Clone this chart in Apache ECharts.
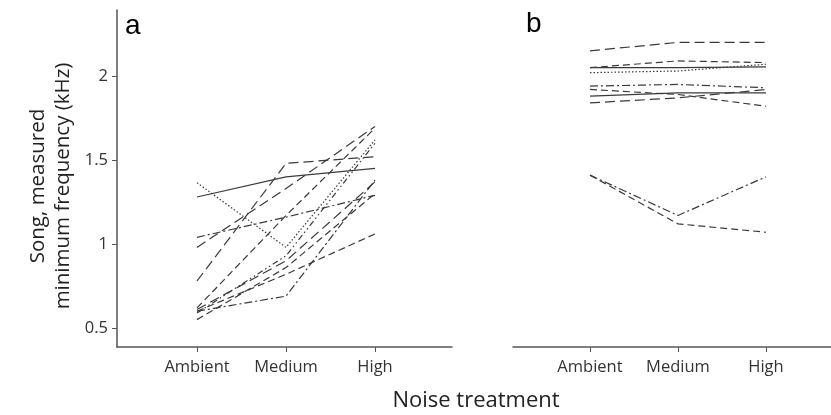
<!DOCTYPE html>
<html>
<head>
<meta charset="utf-8">
<script src="https://cdn.jsdelivr.net/npm/echarts@6/dist/echarts.min.js"></script>
<style>html,body{margin:0;padding:0;background:#fff}#c{width:831px;height:415px}</style>
</head>
<body>
<div id="c"></div>
<script>
// ---- data ----
const categories = ['Ambient', 'Medium', 'High'];
const yTicks = [0.5, 1, 1.5, 2];

// Panel a: one array per individual (Ambient, Medium, High)
const a1 = [1.28, 1.40, 1.45];
const a2 = [1.365, 0.98, 1.62];
const a3 = [0.98, 1.33, 1.70];
const a4 = [0.78, 1.48, 1.52];
const a5 = [1.04, 1.16, 1.29];
const a6 = [0.60, 0.69, 1.38];
const a7 = [0.62, 1.17, 1.69];
const a8 = [0.61, 0.90, 1.37];
const a9 = [0.60, 0.82, 1.06];
const a10 = [0.55, 0.86, 1.30];
const a11 = [0.59, 0.93, 1.60];

// Panel b
const b1 = [2.15, 2.20, 2.20];
const b2 = [2.05, 2.09, 2.08];
const b3 = [2.05, 2.05, 2.055];
const b4 = [2.02, 2.03, 2.07];
const b5 = [1.94, 1.95, 1.93];
const b6 = [1.92, 1.89, 1.82];
const b7 = [1.88, 1.90, 1.90];
const b8 = [1.84, 1.87, 1.92];
const b9 = [1.41, 1.17, 1.40];
const b10 = [1.41, 1.12, 1.07];

const panelA = [a1, a2, a3, a4, a5, a6, a7, a8, a9, a10, a11];
const panelB = [b1, b2, b3, b4, b5, b6, b7, b8, b9, b10];

// ---- styles ----
const DASH = [7, 4], LDASH = [10, 5], DDOT = [8, 3, 2, 3], DOT = [1.5, 2], D2DOT = [6, 3, 1.5, 3, 1.5, 3];
const stylesA = ['solid', DOT, LDASH, LDASH, DDOT, DDOT, DASH, LDASH, DASH, DASH, D2DOT];
const stylesB = [LDASH, DASH, 'solid', DOT, DDOT, DASH, 'solid', LDASH, DDOT, DASH];

const font = 'Open Sans';
const axisColor = '#555';
const lineColor = '#3a3a3a';

function mkSeries(arr, styles, idx) {
  return arr.map((vals, i) => ({
    type: 'line', xAxisIndex: idx, yAxisIndex: idx, symbol: 'none', silent: true,
    data: vals.map((v, j) => [j + 1, v]),
    lineStyle: { color: lineColor, width: 1.2, type: styles[i] }
  }));
}

function xAx(idx, min, max) {
  return {
    type: 'value', gridIndex: idx, min: min, max: max,
    axisLine: { show: true, onZero: false, lineStyle: { color: axisColor, width: 1.5 } },
    axisTick: { show: true, length: 5, customValues: [1, 2, 3], lineStyle: { color: axisColor } },
    axisLabel: { customValues: [1, 2, 3], formatter: v => categories[Math.round(v) - 1] || '',
      color: '#333', fontFamily: font, fontSize: 16.5, margin: 12 },
    splitLine: { show: false }
  };
}
function yAx(idx, show) {
  return {
    type: 'value', gridIndex: idx, min: 0.387, max: 2.393, show: show,
    axisLine: { show: true, lineStyle: { color: axisColor, width: 1.5 } },
    axisTick: { show: true, length: 5, customValues: yTicks, lineStyle: { color: axisColor } },
    axisLabel: { customValues: yTicks, color: '#333', fontFamily: font, fontSize: 16.5, margin: 9 },
    splitLine: { show: false }
  };
}

const chart = echarts.init(document.getElementById('c'), null, { renderer: 'canvas' });
chart.setOption({
  animation: false,
  backgroundColor: '#fff',
  grid: [
    { left: 117, top: 10, width: 335, height: 337 },
    { left: 513, top: 10, width: 318, height: 337 }
  ],
  xAxis: [xAx(0, 0.101, 3.865), xAx(1, 0.125, 3.739)],
  yAxis: [yAx(0, true), yAx(1, false)],
  series: mkSeries(panelA, stylesA, 0).concat(mkSeries(panelB, stylesB, 1)),
  graphic: [
    { type: 'text', left: 125, top: 12, style: { text: 'a', font: '28px "Liberation Sans"', fill: '#000' } },
    { type: 'text', left: 526, top: 10, style: { text: 'b', font: '28px "Liberation Sans"', fill: '#000' } },
    { type: 'text', x: 38, y: 186, rotation: Math.PI / 2,
      style: { text: 'Song, measured', font: '20.5px "Open Sans"', fill: '#222', align: 'center', verticalAlign: 'middle' } },
    { type: 'text', x: 63, y: 186, rotation: Math.PI / 2,
      style: { text: 'minimum frequency (kHz)', font: '20.5px "Open Sans"', fill: '#222', align: 'center', verticalAlign: 'middle' } },
    { type: 'text', x: 476, y: 401,
      style: { text: 'Noise treatment', font: '22px "Open Sans"', fill: '#222', align: 'center', verticalAlign: 'middle' } }
  ]
});
</script>
</body>
</html>
